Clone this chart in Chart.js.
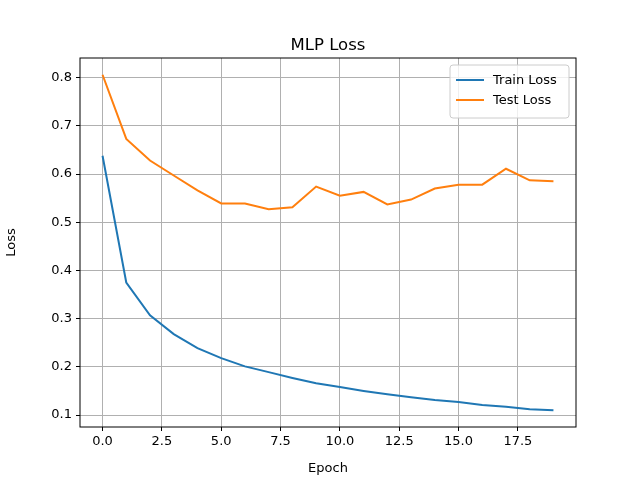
<!DOCTYPE html>
<html>
<head>
<script src="https://cdn.jsdelivr.net/npm/chart.js@4"></script>
<style>
  html, body { margin: 0; padding: 0; background: #fff; }
  #wrap { width: 640px; height: 480px; }
</style>
</head>
<body>
<div id="wrap"><canvas id="lossChart" width="640" height="480"></canvas></div>
<script>
// ===== DATA =====
const epochs = [0, 1, 2, 3, 4, 5, 6, 7, 8, 9, 10, 11, 12, 13, 14, 15, 16, 17, 18, 19];
const trainLoss = [0.638, 0.375, 0.307, 0.268, 0.239, 0.218, 0.201, 0.189, 0.177, 0.166,
                   0.158, 0.150, 0.143, 0.137, 0.131, 0.127, 0.121, 0.117, 0.112, 0.110];
const testLoss = [0.806, 0.673, 0.628, 0.597, 0.566, 0.539, 0.539, 0.527, 0.531, 0.574,
                  0.555, 0.563, 0.537, 0.547, 0.570, 0.578, 0.578, 0.611, 0.587, 0.585];
const seriesLabels = ['Train Loss', 'Test Loss'];
const seriesColors = ['#1f77b4', '#ff7f0e'];

const FONT = 'DejaVu Sans';
const TICK_FONT = { family: FONT, size: 13 };

// draws the title, frame and in-axes legend the matplotlib way
const mplDecor = {
    id: 'mplDecor',
    afterDraw(chart) {
        const { ctx, chartArea: a } = chart;
        ctx.save();
        ctx.strokeStyle = '#000';
        ctx.lineWidth = 1;
        ctx.strokeRect(a.left, a.top, a.right - a.left, a.bottom - a.top);

        ctx.fillStyle = '#000';
        ctx.font = '16.5px "' + FONT + '"';
        ctx.textAlign = 'center';
        ctx.textBaseline = 'alphabetic';
        ctx.fillText('MLP Loss', (a.left + a.right) / 2, a.top - 8);

        // legend box
        const w = 119, h = 53;
        const x = a.right - 7 - w, y = a.top + 7;
        ctx.fillStyle = 'rgba(255,255,255,0.8)';
        ctx.strokeStyle = '#cccccc';
        ctx.beginPath();
        ctx.roundRect(x, y, w, h, 3);
        ctx.fill();
        ctx.stroke();
        ctx.font = '13px "' + FONT + '"';
        ctx.textAlign = 'left';
        ctx.textBaseline = 'middle';
        chart.data.datasets.forEach((ds, i) => {
            const ly = y + 15 + i * 20;
            ctx.strokeStyle = ds.borderColor;
            ctx.lineWidth = 2;
            ctx.beginPath();
            ctx.moveTo(x + 6, ly);
            ctx.lineTo(x + 34, ly);
            ctx.stroke();
            ctx.fillStyle = '#000';
            ctx.fillText(ds.label, x + 43, ly + 1);
        });
        ctx.restore();
    }
};

const toPoints = vals => vals.map((v, i) => ({ x: epochs[i], y: v }));

new Chart(document.getElementById('lossChart').getContext('2d'), {
    type: 'line',
    data: {
        datasets: [
            { label: seriesLabels[0], data: toPoints(trainLoss), borderColor: seriesColors[0], borderWidth: 2, pointRadius: 0, tension: 0, fill: false },
            { label: seriesLabels[1], data: toPoints(testLoss), borderColor: seriesColors[1], borderWidth: 2, pointRadius: 0, tension: 0, fill: false },
        ]
    },
    options: {
        responsive: false,
        animation: false,
        layout: { padding: { top: 58, right: 64, left: 0, bottom: 0 } },
        plugins: { legend: { display: false }, title: { display: false }, tooltip: { enabled: false } },
        scales: {
            x: {
                type: 'linear',
                min: -0.95, max: 19.95,
                afterBuildTicks: s => { s.ticks = [0, 2.5, 5, 7.5, 10, 12.5, 15, 17.5].map(v => ({ value: v })); },
                afterFit: s => { s.height = 53; },
                grid: { color: '#b0b0b0', tickColor: '#000', tickLength: 4, drawTicks: true },
                border: { display: false },
                ticks: { color: '#000', font: TICK_FONT, padding: 3, maxRotation: 0, callback: v => v.toFixed(1) },
                title: { display: true, text: 'Epoch', color: '#000', font: TICK_FONT, padding: { top: 2 } }
            },
            y: {
                min: 0.0752, max: 0.8408,
                afterBuildTicks: s => { s.ticks = [0.1, 0.2, 0.3, 0.4, 0.5, 0.6, 0.7, 0.8].map(v => ({ value: v })); },
                afterFit: s => { s.width = 80; },
                grid: { color: '#b0b0b0', tickColor: '#000', tickLength: 4, drawTicks: true },
                border: { display: false },
                ticks: { color: '#000', font: TICK_FONT, padding: 4, callback: v => v.toFixed(1) },
                title: { display: true, text: 'Loss', color: '#000', font: TICK_FONT, padding: { bottom: 4 } }
            }
        }
    },
    plugins: [mplDecor]
});
</script>
</body>
</html>
